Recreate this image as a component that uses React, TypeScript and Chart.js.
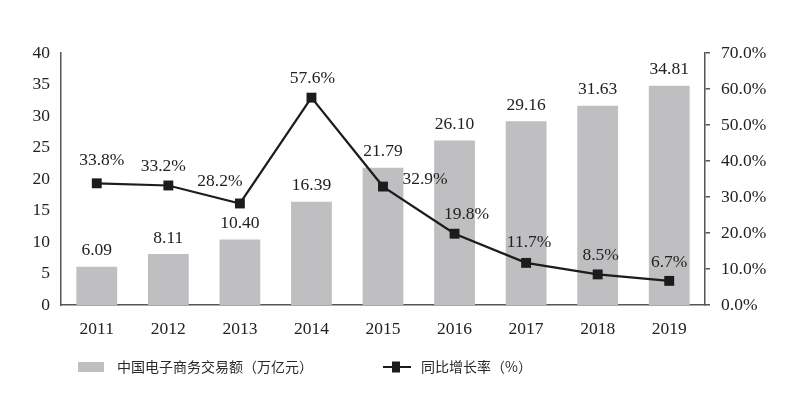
import React, { useEffect, useRef } from "react";
import { Chart, registerables } from "chart.js";

Chart.register(...registerables);

const categories = ["2011", "2012", "2013", "2014", "2015", "2016", "2017", "2018", "2019"];
const tradeValues = [6.09, 8.11, 10.4, 16.39, 21.79, 26.1, 29.16, 31.63, 34.81];
const tradeLabels = ["6.09", "8.11", "10.40", "16.39", "21.79", "26.10", "29.16", "31.63", "34.81"];
const growthRates = [33.8, 33.2, 28.2, 57.6, 32.9, 19.8, 11.7, 8.5, 6.7];
const growthLabels = ["33.8%", "33.2%", "28.2%", "57.6%", "32.9%", "19.8%", "11.7%", "8.5%", "6.7%"];
const leftTicks = [0, 5, 10, 15, 20, 25, 30, 35, 40];
const rightTicks = [0, 10, 20, 30, 40, 50, 60, 70];
const barLegend = "中国电子商务交易额（万亿元）";
const lineLegend = "同比增长率（%）";

// label offsets (style only)
const rateDx = [5, -5, -20, 1, 42, 12, 3, 3, 0];
const rateDy = [-23, -19, -22, -19, -7, -19, -20, -19, -18];

const SERIF = "'Liberation Serif', 'DejaVu Serif', serif";
const CJK = "'Noto Sans CJK SC', sans-serif";
const FS = 17.5;
const BAR_COLOR = "#bfbfc1";
const LINE_COLOR = "#1c1c1c";
const TEXT = "#222";
const AXIS = "#555";

const labelPlugin = {
  id: "customLabels",
  afterDatasetsDraw(chart: any) {
    const ctx = chart.ctx;
    ctx.save();
    ctx.font = `${FS}px ${SERIF}`;
    ctx.fillStyle = TEXT;
    ctx.textAlign = "center";
    ctx.textBaseline = "middle";
    const barMeta = chart.getDatasetMeta(0);
    barMeta.data.forEach((el: any, i: number) => {
      ctx.fillText(tradeLabels[i], el.x, el.y - 16);
    });
    const lineMeta = chart.getDatasetMeta(1);
    lineMeta.data.forEach((el: any, i: number) => {
      ctx.fillText(growthLabels[i], el.x + rateDx[i], el.y + rateDy[i]);
    });

    // legend
    ctx.fillStyle = BAR_COLOR;
    ctx.fillRect(78, 362, 26, 10);
    ctx.font = `14px ${CJK}`;
    ctx.fillStyle = "#2a2a2a";
    ctx.textAlign = "left";
    ctx.fillText(barLegend, 117, 367);

    ctx.strokeStyle = LINE_COLOR;
    ctx.lineWidth = 2;
    ctx.beginPath();
    ctx.moveTo(383, 367);
    ctx.lineTo(411, 367);
    ctx.stroke();
    ctx.fillStyle = LINE_COLOR;
    ctx.fillRect(392, 361.5, 8, 11);
    ctx.fillStyle = "#2a2a2a";
    ctx.fillText(lineLegend, 421, 367);
    ctx.restore();
  },
};

export default function App() {
  const ref = useRef<HTMLCanvasElement | null>(null);
  useEffect(() => {
    if (!ref.current) return;
    const chart = new Chart(ref.current, {
      type: "bar",
      data: {
        labels: categories,
        datasets: [
          {
            type: "bar",
            label: barLegend,
            data: tradeValues,
            backgroundColor: BAR_COLOR,
            borderWidth: 0,
            barPercentage: 0.57,
            categoryPercentage: 1,
            yAxisID: "y",
            order: 2,
          },
          {
            type: "line",
            label: lineLegend,
            data: growthRates,
            borderColor: LINE_COLOR,
            backgroundColor: LINE_COLOR,
            borderWidth: 2.2,
            pointStyle: "rect",
            pointRadius: 7,
            pointBorderWidth: 0,
            pointBackgroundColor: LINE_COLOR,
            tension: 0,
            yAxisID: "y1",
            order: 1,
          } as any,
        ],
      },
      options: {
        responsive: false,
        animation: false,
        layout: { padding: { top: 53, left: 0, right: 0, bottom: 0 } },
        plugins: {
          legend: { display: false },
          tooltip: { enabled: false },
        },
        scales: {
          x: {
            grid: { display: false, drawTicks: false },
            border: { display: true, color: AXIS, width: 1.5 },
            ticks: { font: { family: SERIF, size: FS }, color: TEXT, padding: 14 },
            afterFit: (s: any) => {
              s.height = 89;
            },
          },
          y: {
            position: "left",
            min: 0,
            max: 40,
            afterBuildTicks: (s: any) => {
              s.ticks = leftTicks.map((v) => ({ value: v }));
            },
            grid: { display: false, drawTicks: false },
            border: { display: true, color: AXIS, width: 1.5 },
            ticks: { font: { family: SERIF, size: FS }, color: TEXT, padding: 11 },
            afterFit: (s: any) => {
              s.width = 61;
            },
          },
          y1: {
            position: "right",
            min: 0,
            max: 70,
            afterBuildTicks: (s: any) => {
              s.ticks = rightTicks.map((v) => ({ value: v }));
            },
            grid: { display: true, drawOnChartArea: false, drawTicks: true, tickLength: 5, color: AXIS, lineWidth: 1.5 },
            border: { display: true, color: AXIS, width: 1.5 },
            ticks: {
              font: { family: SERIF, size: FS },
              color: TEXT,
              padding: 11,
              callback: (v: any) => Number(v).toFixed(1) + "%",
            },
            afterFit: (s: any) => {
              s.width = 91;
            },
          },
        },
      },
      plugins: [labelPlugin],
    });
    return () => chart.destroy();
  }, []);
  return (
    <div style={{ position: "fixed", left: 0, top: 0, width: 796, height: 394, background: "#fff" }}>
      <canvas ref={ref} width={796} height={394} />
    </div>
  );
}
